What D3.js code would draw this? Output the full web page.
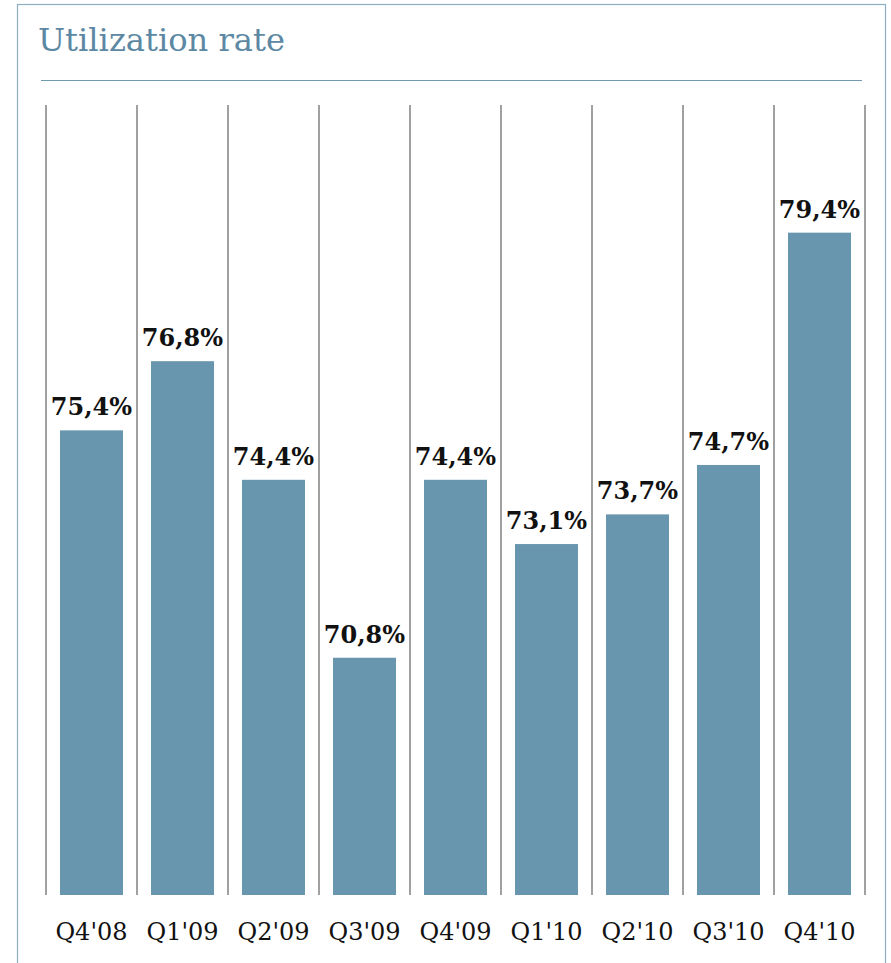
<!DOCTYPE html>
<html>
<head>
<meta charset="utf-8">
<script src="https://cdn.jsdelivr.net/npm/d3@7"></script>
<style>
  html, body { margin: 0; padding: 0; background: #fff; }
  svg { display: block; }
</style>
</head>
<body>
<script>
// Quarterly utilization rate
const quarters = ["Q4'08", "Q1'09", "Q2'09", "Q3'09", "Q4'09", "Q1'10", "Q2'10", "Q3'10", "Q4'10"];
const rates = [75.4, 76.8, 74.4, 70.8, 74.4, 73.1, 73.7, 74.7, 79.4];
const valueLabels = ["75,4%", "76,8%", "74,4%", "70,8%", "74,4%", "73,1%", "73,7%", "74,7%", "79,4%"];

const W = 891, H = 963;
const serif = "Georgia, 'DejaVu Serif', serif";
const barColor = "#6896ae";

const svg = d3.select("body").append("svg")
  .attr("width", W).attr("height", H);

// panel frame (runs past the bottom edge)
svg.append("rect")
  .attr("x", 17.5).attr("y", 4.5)
  .attr("width", 868).attr("height", 1000)
  .attr("fill", "none")
  .attr("stroke", "#8eaec2")
  .attr("stroke-width", 1.2);

// title and rule
svg.append("text")
  .attr("x", 38).attr("y", 51)
  .attr("font-family", serif)
  .attr("font-size", 32.5)
  .attr("fill", "#5d88a3")
  .attr("textLength", 247)
  .attr("lengthAdjust", "spacingAndGlyphs")
  .text("Utilization rate");

svg.append("line")
  .attr("x1", 41).attr("x2", 862)
  .attr("y1", 80.5).attr("y2", 80.5)
  .attr("stroke", "#6f9ab2")
  .attr("stroke-width", 1.2);

const x = d3.scaleBand()
  .domain(quarters)
  .range([46, 865])
  .paddingInner(0.3077)
  .paddingOuter(0.1538);

const y = d3.scaleLinear()
  .domain([66, 80])
  .range([895, 203]);

const gap = x.step() * x.paddingInner() / 2;

// separators between quarters
const seps = quarters.map(q => x(q) - gap).concat([x(quarters[quarters.length - 1]) + x.bandwidth() + gap]);
svg.append("g").selectAll("line")
  .data(seps)
  .join("line")
  .attr("x1", d => d).attr("x2", d => d)
  .attr("y1", 105).attr("y2", y(66))
  .attr("stroke", "#a0a0a0")
  .attr("stroke-width", 2);

// bars
svg.append("g").selectAll("rect")
  .data(rates)
  .join("rect")
  .attr("x", (d, i) => x(quarters[i]))
  .attr("width", x.bandwidth())
  .attr("y", d => y(d))
  .attr("height", d => y(66) - y(d))
  .attr("fill", barColor);

// value labels
svg.append("g").selectAll("text")
  .data(rates)
  .join("text")
  .attr("x", (d, i) => x(quarters[i]) + x.bandwidth() / 2)
  .attr("y", d => y(d) - 15)
  .attr("text-anchor", "middle")
  .attr("font-family", serif)
  .attr("font-weight", "bold")
  .attr("font-size", 24)
  .attr("fill", "#111")
  .text((d, i) => valueLabels[i]);

// category axis
const xAxis = d3.axisBottom(x).tickSize(0).tickPadding(0);
const gx = svg.append("g")
  .attr("transform", "translate(0,920)")
  .call(xAxis);
gx.select(".domain").remove();
gx.selectAll("text")
  .attr("font-family", serif)
  .attr("font-size", 24)
  .attr("fill", "#111")
  .attr("dy", "0.85em");
</script>
</body>
</html>
